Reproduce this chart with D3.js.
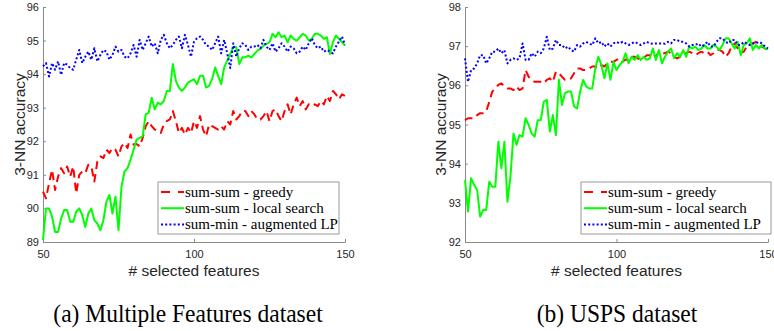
<!doctype html>
<html>
<head>
<script src="https://d3js.org/d3.v7.min.js"></script>
<style>
body { margin: 0; background: #fff; }
.tick text { font-family: "Liberation Sans", Arial, sans-serif; font-size: 11px; fill: #262626; }
</style>
</head>
<body>
<script>
var width = 774, height = 331;
var plotTop = 7, plotBottom = 242;

// number of selected features, one point per value
var features = d3.range(50, 151);
var xTicks = [50, 100, 150];
var mfTicks = [89, 90, 91, 92, 93, 94, 95, 96];
var uspsTicks = [92, 93, 94, 95, 96, 97, 98];
var seriesNames = ['sum-sum - greedy', 'sum-sum - local search', 'sum-min - augmented LP'];

// (a) Multiple Features
var mfGreedy = [90.5, 90.3, 90.75, 91.15, 90.55, 90.95, 91.2, 91.05, 91.25, 90.95,
	91.25, 90.45, 91.0, 91.1, 91.05, 91.3, 91.25, 90.8, 91.4, 91.55,
	91.5, 91.75, 91.65, 91.8, 91.75, 91.55, 91.85, 91.95, 91.8, 92.2,
	91.9, 91.92, 91.85, 92.1, 92.45, 92.6, 92.45, 92.35, 92.3, 92.25,
	92.5, 92.6, 92.65, 92.9, 92.6, 92.25, 92.4, 92.2, 92.4, 92.25,
	92.6, 92.4, 92.75, 92.35, 92.15, 92.5, 92.45, 92.4, 92.35, 92.45,
	92.35, 92.6, 92.5, 92.9, 92.65, 92.75, 92.9, 92.9, 92.75, 92.9,
	92.8, 92.65, 92.65, 92.75, 92.9, 92.6, 92.9, 92.95, 92.75, 92.6,
	92.9, 93.1, 92.8, 93.1, 93.3, 93.05, 93.2, 92.95, 93.1, 93.05,
	93.1, 93.05, 93.2, 93.1, 93.35, 93.2, 93.5, 93.4, 93.25, 93.4, 93.35];
var mfLocal = [89.06, 90.0, 90.0, 89.75, 89.3, 89.3, 89.7, 89.95, 89.95, 89.6,
	89.6, 89.9, 90.0, 89.8, 89.45, 89.85, 90.0, 89.65, 89.55, 89.35,
	89.65, 90.2, 90.4, 89.85, 90.35, 89.35, 90.65, 91.1, 91.2, 91.45,
	91.75, 92.05, 92.1, 92.15, 92.8, 92.85, 93.3, 92.95, 93.15, 93.1,
	93.2, 93.5, 93.5, 94.3, 93.8, 93.6, 93.5, 93.6, 93.75, 93.8,
	93.85, 93.7, 93.95, 93.95, 93.6, 93.65, 93.85, 94.2, 93.95, 93.7,
	94.2, 94.4, 94.6, 94.8, 94.8, 94.3, 94.5, 94.5, 94.55, 94.5,
	94.6, 94.7, 94.75, 94.85, 94.9, 94.95, 95.2, 95.1, 95.25, 95.1,
	95.15, 94.95, 95.15, 95.05, 95.0, 95.1, 95.2, 95.15, 95.0, 95.05,
	95.2, 95.2, 95.15, 95.05, 95.1, 94.6, 94.95, 95.15, 95.05, 94.95, 94.85];
var mfLP = [94.23, 94.33, 93.93, 94.33, 94.13, 94.38, 93.98, 94.33, 94.28, 94.18,
	94.13, 94.43, 94.72, 94.33, 94.52, 94.67, 94.43, 94.77, 94.38, 94.57,
	94.72, 94.67, 94.43, 94.57, 94.82, 94.67, 94.72, 94.52, 94.47, 94.62,
	94.87, 94.52, 95.02, 94.72, 94.92, 95.12, 94.82, 94.92, 94.62, 95.02,
	95.17, 94.92, 94.77, 94.87, 95.02, 95.12, 94.77, 95.17, 94.87, 94.52,
	94.97, 95.07, 95.12, 95.02, 94.87, 94.82, 94.72, 94.92, 95.12, 94.62,
	95.02, 94.62, 94.18, 94.92, 94.52, 94.77, 94.92, 94.87, 94.72, 94.82,
	94.82, 94.87, 94.77, 95.02, 94.82, 94.72, 94.92, 94.67, 94.77, 94.92,
	94.82, 94.67, 94.82, 94.77, 94.62, 94.67, 94.82, 94.72, 94.92, 95.07,
	94.87, 94.77, 94.82, 94.67, 94.72, 94.67, 94.62, 94.82, 94.97, 95.12, 94.87];

// (b) USPS
var uspsGreedy = [95.11, 95.16, 95.16, 95.16, 95.24, 95.29, 95.29, 95.33, 95.58, 95.84,
	95.92, 96.01, 96.05, 95.97, 95.92, 95.92, 95.88, 95.97, 95.88, 95.92,
	96.39, 96.22, 96.14, 96.09, 96.09, 96.09, 96.05, 96.14, 96.18, 96.09,
	96.35, 96.31, 96.22, 96.14, 96.14, 96.18, 96.31, 96.43, 96.43, 96.39,
	96.39, 96.43, 96.48, 96.48, 96.43, 96.52, 96.48, 96.56, 96.6, 96.6,
	96.65, 96.69, 96.6, 96.66, 96.65, 96.73, 96.73, 96.69, 96.65, 96.69,
	96.77, 96.77, 96.82, 96.73, 96.86, 96.82, 96.82, 96.86, 96.82, 96.73,
	96.69, 96.73, 96.77, 96.82, 96.86, 96.82, 96.77, 96.82, 96.86, 96.82,
	96.86, 96.77, 96.82, 96.9, 96.9, 96.86, 96.73, 96.82, 96.99, 97.07,
	96.94, 96.82, 96.86, 96.99, 97.03, 97.07, 97.11, 96.99, 96.99, 96.94, 96.9];
var uspsLocal = [93.58, 92.78, 93.63, 93.46, 93.33, 92.65, 92.82, 92.82, 93.54, 93.41,
	93.41, 94.56, 93.88, 94.56, 93.03, 93.67, 94.77, 94.48, 94.73, 94.69,
	95.16, 94.99, 94.77, 94.69, 95.11, 95.11, 95.58, 95.63, 94.82, 95.24,
	94.73, 96.14, 95.5, 95.8, 95.84, 95.84, 95.46, 95.41, 95.84, 96.14,
	95.97, 95.92, 95.92, 96.43, 96.73, 96.52, 96.18, 96.56, 96.14, 96.6,
	96.39, 96.52, 96.6, 96.82, 96.56, 96.73, 96.65, 96.77, 96.65, 96.73,
	96.65, 96.69, 96.94, 96.65, 96.9, 96.56, 96.73, 96.86, 96.94, 96.69,
	96.82, 96.73, 96.9, 96.73, 96.99, 96.94, 96.99, 96.9, 96.94, 97.03,
	96.94, 96.94, 97.03, 96.99, 96.9, 97.03, 97.2, 97.2, 97.07, 96.94,
	97.11, 96.77, 97.03, 97.07, 97.2, 96.9, 97.03, 96.94, 97.03, 96.94, 96.92];
var uspsLP = [96.69, 96.09, 96.39, 96.43, 96.56, 96.77, 96.77, 96.56, 96.69, 96.86,
	96.86, 96.94, 96.82, 96.9, 96.56, 96.65, 96.69, 96.65, 96.69, 97.07,
	96.65, 96.65, 96.82, 96.73, 96.86, 96.82, 96.94, 97.24, 96.9, 96.94,
	97.16, 97.03, 97.03, 96.94, 96.99, 96.9, 96.86, 97.03, 96.99, 97.07,
	97.11, 97.07, 97.03, 97.2, 97.07, 97.11, 96.99, 97.07, 96.99, 97.07,
	97.11, 97.07, 97.11, 97.07, 97.03, 97.07, 97.11, 97.07, 97.03, 97.07,
	97.11, 97.07, 97.06, 97.07, 97.07, 97.07, 97.06, 97.11, 97.07, 97.16,
	97.16, 97.11, 97.11, 97.07, 96.99, 97.03, 97.03, 97.07, 96.99, 97.03,
	97.11, 96.99, 96.99, 97.11, 97.2, 97.2, 97.11, 97.07, 97.16, 97.16,
	97.03, 97.03, 97.11, 97.07, 97.03, 97.07, 97.07, 97.11, 97.07, 96.99, 96.94];

var styles = [
	{color: '#ff0000', dash: '8,5'},
	{color: '#00ff00', dash: null},
	{color: '#0000ff', dash: '2,2.2'}
];

var svg = d3.select('body').append('svg').attr('width', width).attr('height', height);

drawPanel({left: 43, right: 345, domain: [89, 96], ticks: mfTicks,
	series: [mfGreedy, mfLocal, mfLP], ylabelX: 19,
	legendX: 158, legendW: 181, caption: '(a) Multiple Features dataset', captionX: 188});
drawPanel({left: 465, right: 768, domain: [92, 98], ticks: uspsTicks,
	series: [uspsGreedy, uspsLocal, uspsLP], ylabelX: 440,
	legendX: 581, legendW: 190, caption: '(b) USPS dataset', captionX: 617});

function drawPanel(p) {
	var xScale = d3.scaleLinear().domain([50, 150]).range([p.left, p.right]);
	var yScale = d3.scaleLinear().domain(p.domain).range([plotBottom, plotTop]);

	var g = svg.append('g');

	//Axes: MATLAB style, ticks pointing inward, no box
	var yAxis = d3.axisLeft(yScale).tickValues(p.ticks).tickFormat(d3.format('d'))
		.tickSizeInner(-3).tickSizeOuter(0).tickPadding(4);
	var yG = g.append('g').attr('transform', 'translate(' + p.left + ',0)').call(yAxis);
	var xAxis = d3.axisBottom(xScale).tickValues(xTicks).tickFormat(d3.format('d'))
		.tickSizeInner(-3).tickSizeOuter(0).tickPadding(8);
	var xG = g.append('g').attr('transform', 'translate(0,' + plotBottom + ')').call(xAxis);
	[yG, xG].forEach(function(a) {
		a.select('.domain').attr('stroke', '#8a8a8a');
		a.selectAll('.tick line').attr('stroke', '#8a8a8a');
	});

	//Series lines
	p.series.forEach(function(values, i) {
		var line = d3.line().x(function(d, j) { return xScale(features[j]); })
							.y(function(d) { return yScale(d); });
		g.append('path').attr('d', line(values))
			.attr('fill', 'none')
			.attr('stroke', styles[i].color)
			.attr('stroke-width', 2)
			.attr('stroke-linejoin', 'round')
			.attr('stroke-dasharray', styles[i].dash);
	});

	//Axis labels
	g.append('text').text('3-NN accuracy')
		.attr('transform', 'translate(' + p.ylabelX + ',' + ((plotTop + plotBottom) / 2) + ') rotate(-90)')
		.attr('text-anchor', 'middle').attr('dominant-baseline', 'central')
		.style('font-family', '"Liberation Sans", Arial, sans-serif').style('font-size', '15.5px').style('fill', '#262626');
	g.append('text').text('# selected features')
		.attr('x', (p.left + p.right) / 2).attr('y', 276)
		.attr('text-anchor', 'middle')
		.style('font-family', '"Liberation Sans", Arial, sans-serif').style('font-size', '15.5px').style('fill', '#262626');

	//Legend
	var lg = g.append('g').attr('transform', 'translate(' + p.legendX + ',182)');
	lg.append('rect').attr('width', p.legendW).attr('height', 52)
		.attr('fill', '#fff').attr('stroke', '#9a9a9a').attr('stroke-width', 1);
	seriesNames.forEach(function(name, i) {
		var ry = 10 + i * 16.2;
		lg.append('line').attr('x1', 3).attr('x2', 26).attr('y1', ry).attr('y2', ry)
			.attr('stroke', styles[i].color).attr('stroke-width', 2)
			.attr('stroke-dasharray', i == 0 ? '9,8' : styles[i].dash);
		lg.append('text').text(name).attr('x', 27).attr('y', ry + 4.5)
			.style('font-family', '"Liberation Serif", "Times New Roman", serif').style('font-size', '15px').style('fill', '#000');
	});

	//Caption
	svg.append('text').text(p.caption)
		.attr('transform', 'translate(' + p.captionX + ',322) scale(0.94,1)')
		.attr('text-anchor', 'middle')
		.style('font-family', '"Liberation Serif", "Times New Roman", serif').style('font-size', '25px').style('fill', '#000');
}
</script>
</body>
</html>
